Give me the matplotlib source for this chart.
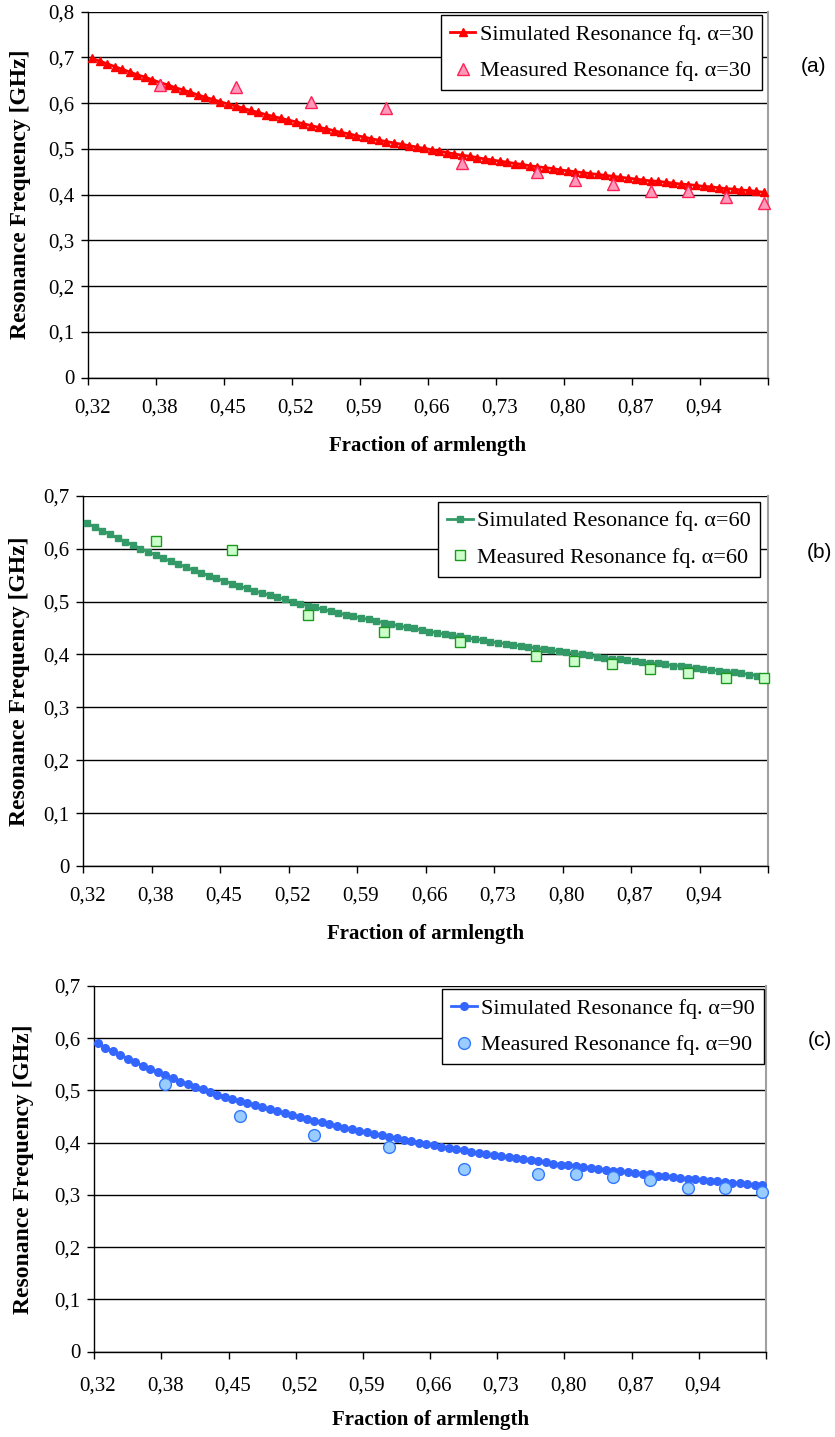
import numpy as np
import matplotlib.pyplot as plt

# category axis: 90 arm-length fractions, every 9th one labelled
frac_labels = ['0,32', '0,38', '0,45', '0,52', '0,59', '0,66', '0,73', '0,80', '0,87', '0,94']
n_cat = 90
label_every = 9
meas_idx = [9, 19, 29, 39, 49, 59, 64, 69, 74, 79, 84, 89]

# alpha = 30
sim_30 = [0.698, 0.692, 0.686, 0.680, 0.674, 0.668, 0.662, 0.657, 0.651, 0.645,
          0.640, 0.634, 0.629, 0.624, 0.618, 0.613, 0.608, 0.603, 0.598, 0.594,
          0.589, 0.584, 0.580, 0.575, 0.571, 0.567, 0.563, 0.559, 0.555, 0.551,
          0.547, 0.544, 0.540, 0.536, 0.533, 0.529, 0.526, 0.522, 0.519, 0.516,
          0.513, 0.510, 0.507, 0.504, 0.501, 0.498, 0.495, 0.492, 0.489, 0.486,
          0.484, 0.481, 0.478, 0.476, 0.473, 0.471, 0.468, 0.466, 0.463, 0.461,
          0.459, 0.457, 0.454, 0.452, 0.450, 0.448, 0.446, 0.444, 0.442, 0.440,
          0.438, 0.436, 0.434, 0.432, 0.430, 0.429, 0.427, 0.425, 0.423, 0.422,
          0.420, 0.418, 0.417, 0.415, 0.413, 0.412, 0.410, 0.409, 0.407, 0.405]
meas_30 = [0.640, 0.636, 0.603, 0.589, 0.469, 0.450, 0.433, 0.423, 0.408, 0.408, 0.395, 0.381]

# alpha = 60
sim_60 = [0.648, 0.641, 0.634, 0.627, 0.620, 0.613, 0.607, 0.600, 0.594, 0.588,
          0.582, 0.576, 0.570, 0.565, 0.559, 0.554, 0.549, 0.544, 0.539, 0.534,
          0.529, 0.525, 0.520, 0.516, 0.512, 0.508, 0.504, 0.500, 0.496, 0.492,
          0.489, 0.485, 0.482, 0.478, 0.475, 0.472, 0.469, 0.466, 0.463, 0.460,
          0.457, 0.454, 0.451, 0.449, 0.446, 0.443, 0.441, 0.438, 0.436, 0.434,
          0.431, 0.429, 0.427, 0.424, 0.422, 0.420, 0.418, 0.416, 0.414, 0.412,
          0.410, 0.408, 0.406, 0.404, 0.402, 0.400, 0.398, 0.396, 0.394, 0.392,
          0.391, 0.389, 0.387, 0.386, 0.384, 0.383, 0.381, 0.379, 0.378, 0.376,
          0.374, 0.372, 0.371, 0.369, 0.367, 0.366, 0.364, 0.362, 0.360, 0.358]
meas_60 = [0.614, 0.597, 0.474, 0.443, 0.423, 0.397, 0.387, 0.382, 0.372, 0.365, 0.356, 0.356]

# alpha = 90
sim_90 = [0.590, 0.582, 0.575, 0.568, 0.561, 0.554, 0.547, 0.541, 0.535, 0.529,
          0.523, 0.517, 0.512, 0.507, 0.502, 0.497, 0.492, 0.488, 0.484, 0.480,
          0.476, 0.472, 0.468, 0.464, 0.460, 0.456, 0.453, 0.449, 0.446, 0.442,
          0.439, 0.436, 0.432, 0.429, 0.426, 0.423, 0.420, 0.417, 0.414, 0.411,
          0.408, 0.405, 0.403, 0.400, 0.397, 0.395, 0.392, 0.390, 0.387, 0.385,
          0.383, 0.380, 0.378, 0.376, 0.374, 0.372, 0.370, 0.368, 0.366, 0.364,
          0.362, 0.360, 0.358, 0.357, 0.355, 0.353, 0.351, 0.350, 0.348, 0.346,
          0.345, 0.343, 0.342, 0.340, 0.339, 0.337, 0.336, 0.334, 0.333, 0.331,
          0.330, 0.328, 0.327, 0.326, 0.324, 0.323, 0.322, 0.320, 0.319, 0.318]
meas_90 = [0.513, 0.451, 0.414, 0.391, 0.350, 0.340, 0.340, 0.335, 0.329, 0.314, 0.313, 0.305]

plt.rcParams['font.family'] = ['Liberation Serif', 'DejaVu Serif']

W, H = 835, 1437
fig = plt.figure(figsize=(W / 100, H / 100), dpi=100)


def px_axes(l, t, r, b):
    return fig.add_axes([l / W, 1 - b / H, (r - l) / W, (b - t) / H])


def draw_panel(box, sim, meas, alpha, ymax, sim_style, meas_style,
               leg_rt, tag, tag_xy, ylab_x, tick_pad):
    l, t, r, b = box
    ax = px_axes(l, t, r, b)
    x_sim = np.arange(n_cat) + 0.5
    x_meas = np.array(meas_idx) + 0.5
    ax.plot(x_sim, sim, label=f'Simulated Resonance fq. α={alpha}',
            clip_on=False, zorder=3, **sim_style)
    ax.plot(x_meas, meas, ls='none', label=f'Measured Resonance fq. α={alpha}',
            clip_on=False, zorder=4, **meas_style)

    ax.set_xlim(0, n_cat)
    ax.set_ylim(0, ymax)
    yt = np.round(np.arange(0, ymax + 0.05, 0.1), 1)
    ax.set_yticks(yt)
    ax.set_yticklabels(['0' if v == 0 else f'{v:.1f}'.replace('.', ',') for v in yt])
    ax.set_xticks(np.arange(0, n_cat + 1, label_every))
    ax.set_xticklabels([])
    ax.set_xticks(np.arange(0, n_cat, label_every) + 0.5, minor=True)
    ax.set_xticklabels(frac_labels, minor=True)
    ax.tick_params(axis='x', which='minor', length=0, pad=tick_pad, labelsize=15)
    ax.tick_params(axis='x', which='major', length=5, width=1, direction='out')
    ax.tick_params(axis='y', length=5, width=1, pad=5, labelsize=15)
    ax.grid(axis='y', color='black', lw=1)

    ax.spines['top'].set_visible(False)
    ax.spines['right'].set_color('#a0a0a0')
    ax.spines['right'].set_linewidth(1.5)
    ax.spines['left'].set_linewidth(1)
    ax.spines['bottom'].set_linewidth(1)

    ax.set_xlabel('Fraction of armlength', fontsize=15, fontweight='bold')
    ax.xaxis.label.set_va('center')
    ax.xaxis.set_label_coords(0.5, -68 / (b - t))
    ax.set_ylabel('Resonance Frequency [GHz]', fontsize=17, fontweight='bold')
    ax.yaxis.label.set_va('center')
    ax.yaxis.set_label_coords((ylab_x - l) / (r - l), 0.5)

    leg = ax.legend(loc='upper right', bbox_to_anchor=(leg_rt[0] / W, 1 - leg_rt[1] / H),
                    bbox_transform=fig.transFigure, borderaxespad=0, fontsize=16,
                    fancybox=False, edgecolor='black', framealpha=1, numpoints=1,
                    handlelength=1.15, handletextpad=0.2, labelspacing=0.72,
                    borderpad=0.4)
    leg.get_frame().set_linewidth(1.0)

    fig.text(tag_xy[0] / W, 1 - tag_xy[1] / H, tag, family='Liberation Sans',
             fontsize=15, ha='center', va='center')


draw_panel((88.3, 11.7, 767.7, 377.5), sim_30, meas_30, 30, 0.8,
           dict(color='#ff0000', lw=2, marker='^', ms=6),
           dict(marker='^', ms=9, mfc='#ff99bb', mec='#ff2255', mew=1),
           (762.3, 15.3), '(a)', (814, 66.5), 21, 15)

draw_panel((83.3, 495.7, 768, 866), sim_60, meas_60, 60, 0.7,
           dict(color='#339966', lw=2, marker='s', ms=5),
           dict(marker='s', ms=6.5, mfc='#ccffcc', mec='#1a9a1a', mew=1),
           (760, 502), '(b)', (819, 552), 20, 15)

draw_panel((94.3, 986, 766, 1351.5), sim_90, meas_90, 90, 0.7,
           dict(color='#3366ff', lw=2, marker='o', ms=5.5),
           dict(marker='o', ms=8.5, mfc='#99ccff', mec='#3377ff', mew=1),
           (763.6, 989.3), '(c)', (820, 1041), 24, 18)

fig.savefig('out.png', dpi=100)
